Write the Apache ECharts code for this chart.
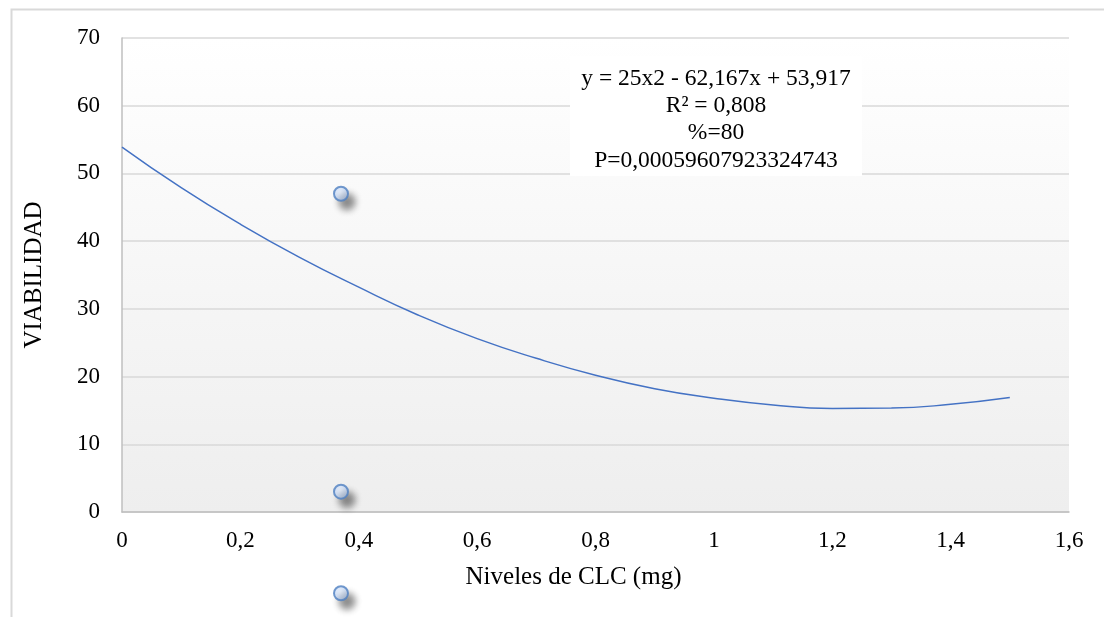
<!DOCTYPE html>
<html>
<head>
<meta charset="utf-8">
<script src="https://cdn.jsdelivr.net/npm/echarts@6/dist/echarts.min.js"></script>
<style>
  html, body { margin: 0; padding: 0; background: #fff; }
  #chart { width: 1104px; height: 617px; }
</style>
</head>
<body>
<div id="chart"></div>
<script>
// puntos medidos
const puntosX = [0.37, 0.37, 0.37]
const puntosY = [47, 3, -12]

// línea de tendencia
const curvaX = [0, 0.1, 0.2, 0.3, 0.4, 0.5, 0.6, 0.7, 0.8, 0.9, 1.0, 1.1, 1.2, 1.3, 1.4, 1.5]
const curvaY = [53.9, 47.9, 42.5, 37.6, 33.2, 29.1, 25.6, 22.7, 20.2, 18.2, 16.8, 15.8, 15.3, 15.35, 15.9, 16.9]

const etiqueta = [
  'y = 25x2 - 62,167x + 53,917',
  'R² = 0,808',
  '%=80',
  'P=0,00059607923324743'
]

const fuente = 'Liberation Serif'
const tam = 23

let myChart = echarts.init(document.getElementById('chart'))

let option = {
  backgroundColor: '#fff',
  animation: false,
  textStyle: { fontFamily: fuente },
  grid: {
    left: 122,
    right: 35,
    top: 38,
    bottom: 105,
    show: true,
    borderWidth: 0,
    backgroundColor: {
      type: 'linear', x: 0, y: 0, x2: 0, y2: 1,
      colorStops: [
        { offset: 0, color: '#ffffff' },
        { offset: 1, color: '#eeeeee' }
      ]
    }
  },
  xAxis: {
    type: 'value',
    min: 0,
    max: 1.6,
    interval: 0.2,
    name: 'Niveles de CLC (mg)',
    nameLocation: 'middle',
    nameGap: 53,
    nameTextStyle: { fontFamily: fuente, fontSize: 25, color: '#000', padding: [0, 44, 0, 0] },
    axisLine: { show: true, onZero: false, lineStyle: { color: '#bfbfbf', width: 1.5 } },
    axisTick: { show: false },
    splitLine: { show: false },
    axisLabel: {
      fontFamily: fuente, fontSize: tam, color: '#000', margin: 17,
      formatter: v => String(Math.round(v * 10) / 10).replace('.', ',')
    }
  },
  yAxis: {
    type: 'value',
    min: 0,
    max: 70,
    interval: 10,
    name: 'VIABILIDAD',
    nameLocation: 'middle',
    nameGap: 75,
    nameTextStyle: { fontFamily: fuente, fontSize: 25, color: '#000' },
    axisLine: { show: true, lineStyle: { color: '#bfbfbf', width: 1.5 } },
    axisTick: { show: false },
    splitLine: { show: true, lineStyle: { color: '#d9d9d9', width: 1.5 } },
    axisLabel: { fontFamily: fuente, fontSize: tam, color: '#000', margin: 22 }
  },
  graphic: [
    {
      type: 'rect',
      left: 9,
      top: 7,
      shape: { width: 1200, height: 700 },
      style: { fill: 'none', stroke: '#d9d9d9', lineWidth: 2 },
      silent: true
    },
    {
      type: 'rect',
      x: 570,
      y: 56,
      shape: { width: 292, height: 120 },
      style: { fill: '#fff' },
      z: 100
    },
    {
      type: 'text',
      x: 716,
      y: 65,
      z: 101,
      style: {
        text: etiqueta.join('\n'),
        fontFamily: fuente,
        fontSize: 23.5,
        lineHeight: 27.3,
        fill: '#000',
        align: 'center',
        verticalAlign: 'top'
      }
    }
  ],
  series: [
    {
      type: 'line',
      data: curvaX.map((x, i) => [x, curvaY[i]]),
      smooth: true,
      showSymbol: false,
      lineStyle: { color: '#4472c4', width: 1.5 },
      z: 3
    },
    {
      type: 'scatter',
      clip: false,
      data: puntosX.map((x, i) => [x, puntosY[i]]),
      symbol: 'circle',
      symbolSize: 14,
      itemStyle: {
        color: {
          type: 'radial', x: 0.45, y: 0.4, r: 0.7,
          colorStops: [
            { offset: 0, color: '#e3edfc' },
            { offset: 1, color: '#b3ccf3' }
          ]
        },
        borderColor: '#4f7fc0',
        borderWidth: 2,
        shadowColor: 'rgba(0,0,0,0.55)',
        shadowBlur: 7,
        shadowOffsetX: 6,
        shadowOffsetY: 8
      },
      z: 5
    }
  ]
}

myChart.setOption(option)
</script>
</body>
</html>
